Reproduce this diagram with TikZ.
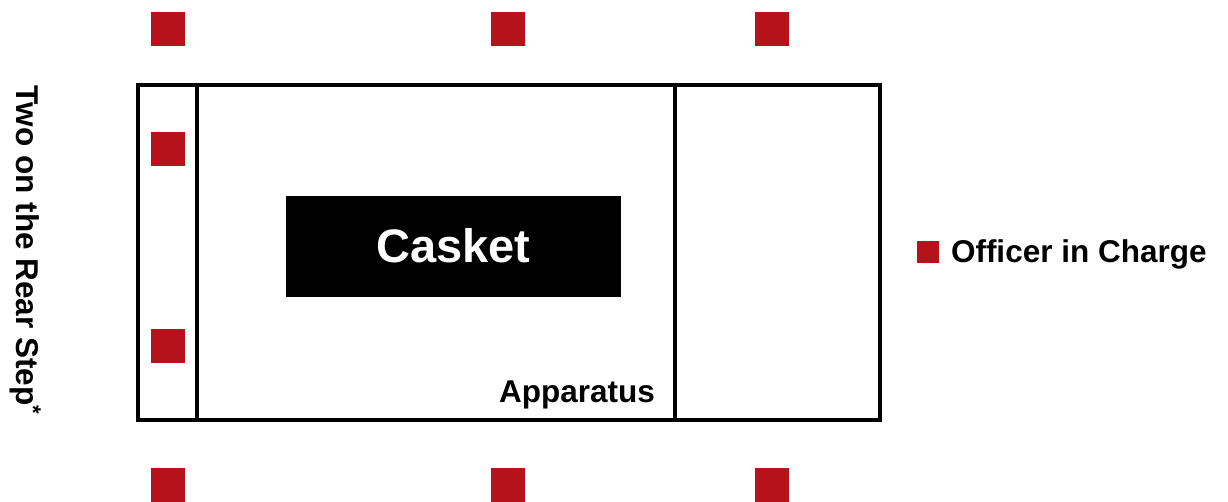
\documentclass[tikz,border=0pt]{standalone}
\usepackage{fontspec}
\setmainfont{Liberation Sans}
\definecolor{guardred}{RGB}{181,18,27}
\begin{document}
\begin{tikzpicture}[x=1pt,y=1pt,
  officer/.style={fill=guardred,draw=none,minimum size=34pt,inner sep=0pt,outer sep=0pt},
  legendsq/.style={fill=guardred,draw=none,minimum size=22pt,inner sep=0pt,outer sep=0pt},
  frameline/.style={line width=3.6pt,line join=miter},
  lbl/.style={font=\fontsize{31.5}{36}\selectfont\bfseries,inner sep=0pt,outer sep=0pt}
]
\useasboundingbox (0,0) rectangle (1228,502);
% apparatus outline
\draw[frameline] (138,417) rectangle (880,82);
\coordinate (l1t) at (197,417); \coordinate (l1b) at (197,82);
\coordinate (l2t) at (675,417); \coordinate (l2b) at (675,82);
\draw[frameline] (l1t) -- (l1b);
\draw[frameline] (l2t) -- (l2b);
% casket
\fill[black] (286,306) rectangle (621,205);
\node[font=\fontsize{47}{52}\selectfont\bfseries,text=white,anchor=base,inner sep=0pt] (casket) at (453.5,239.3) {Casket};
% officers
\node[officer] (t1) at (168,473) {};
\node[officer] (t2) at (508,473) {};
\node[officer] (t3) at (772,473) {};
\node[officer] (b1) at (168,17) {};
\node[officer] (b2) at (508,17) {};
\node[officer] (b3) at (772,17) {};
\node[officer] (r1) at (168,353) {};
\node[officer] (r2) at (168,156) {};
% labels
\node[lbl,anchor=base east] (app) at (655,99) {Apparatus};
\node[legendsq] (lsq) at (928,250) {};
\node[lbl,anchor=base west] (oic) at (951,239.3) {Officer in Charge};
\node[lbl,rotate=-90,anchor=base west] (rear) at (16.5,416) {Two on the Rear Step\textsuperscript{*}};
\end{tikzpicture}
\end{document}
